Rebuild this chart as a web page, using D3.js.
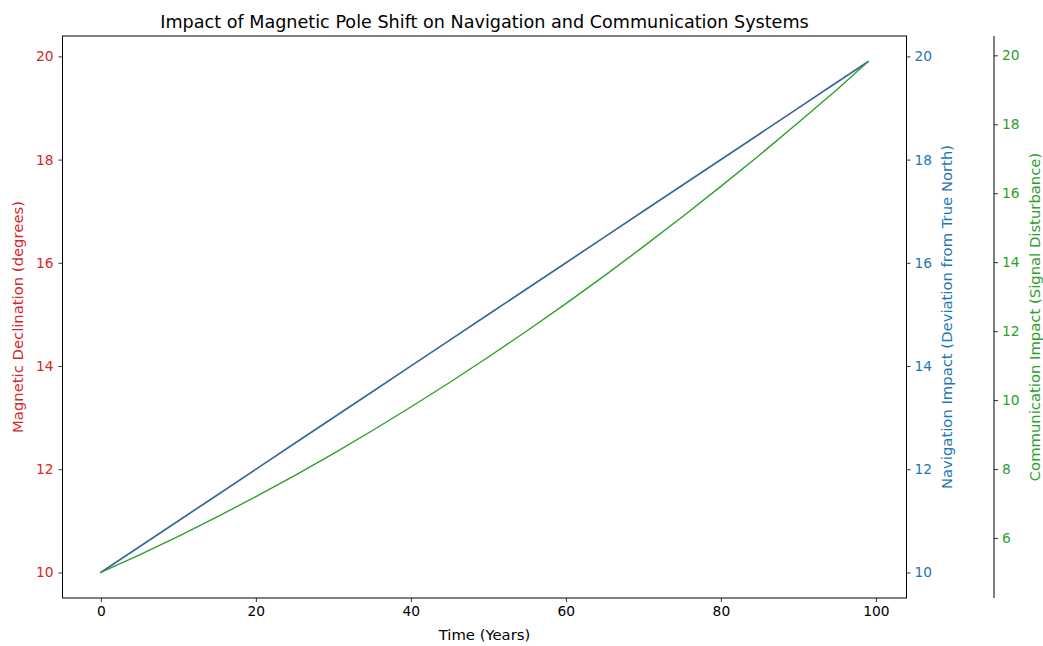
<!DOCTYPE html>
<html>
<head>
<meta charset="utf-8">
<script src="https://cdn.jsdelivr.net/npm/d3@7"></script>
<style>
  html, body { margin: 0; padding: 0; background: #fff; }
  svg { display: block; font-family: "DejaVu Sans", sans-serif; }
</style>
</head>
<body>
<svg id="chart" width="1043" height="646"></svg>
<script>
// ---- data ----
const years = [0, 5, 10, 15, 20, 25, 30, 35, 40, 45, 50, 55, 60, 65, 70, 75, 80, 85, 90, 95, 99];
const declination = [10.0, 10.5, 11.0, 11.5, 12.0, 12.5, 13.0, 13.5, 14.0, 14.5, 15.0, 15.5, 16.0, 16.5, 17.0, 17.5, 18.0, 18.5, 19.0, 19.5, 19.9];
const navigation = [10.0, 10.5, 11.0, 11.5, 12.0, 12.5, 13.0, 13.5, 14.0, 14.5, 15.0, 15.5, 16.0, 16.5, 17.0, 17.5, 18.0, 18.5, 19.0, 19.5, 19.9];
const communication = [5.0, 5.51, 6.05, 6.61, 7.2, 7.81, 8.45, 9.11, 9.8, 10.51, 11.25, 12.01, 12.8, 13.61, 14.45, 15.31, 16.2, 17.11, 18.05, 19.01, 19.82];
const xTicks = [0, 20, 40, 60, 80, 100];
const leftTicks = [10, 12, 14, 16, 18, 20];
const rightTicks = [10, 12, 14, 16, 18, 20];
const commTicks = [6, 8, 10, 12, 14, 16, 18, 20];

const title = "Impact of Magnetic Pole Shift on Navigation and Communication Systems";
const xLabel = "Time (Years)";
const leftLabel = "Magnetic Declination (degrees)";
const rightLabel = "Navigation Impact (Deviation from True North)";
const commLabel = "Communication Impact (Signal Disturbance)";

const RED = "#d62728", BLUE = "#1f77b4", GREEN = "#2ca02c";

// ---- layout ----
const L = 62.5, R = 906.5, T = 36, B = 598;
const svg = d3.select("#chart");

function padDomain(arr) {
  const [a, b] = d3.extent(arr);
  const p = (b - a) * 0.05;
  return [a - p, b + p];
}

const x = d3.scaleLinear().domain(padDomain(years)).range([L, R]);
const yL = d3.scaleLinear().domain(padDomain(declination)).range([B, T]);
const yR = d3.scaleLinear().domain(padDomain(navigation)).range([B, T]);
const yC = d3.scaleLinear().domain(padDomain(communication)).range([B, T]);

const FS = 13.8;   // tick labels
const LFS = 14.8;  // axis labels
const TFS = 17.6;  // title

// lines
function drawLine(vals, yScale, color) {
  const line = d3.line().x((d, i) => x(years[i])).y(d => yScale(d));
  svg.append("path").datum(vals)
    .attr("d", line)
    .attr("fill", "none")
    .attr("stroke", color)
    .attr("stroke-width", 1.4)
    .attr("stroke-linejoin", "round")
    .attr("stroke-linecap", "round");
}
drawLine(declination, yL, RED);
drawLine(navigation, yR, BLUE);
drawLine(communication, yC, GREEN);

// axes
function styleAxis(g, color) {
  g.select(".domain").remove();
  g.selectAll(".tick line").attr("stroke", "#000").attr("stroke-width", 0.8);
  g.selectAll(".tick text").attr("fill", color).style("font-size", FS + "px")
    .style("font-family", "DejaVu Sans, sans-serif");
}

const gx = svg.append("g").attr("transform", `translate(0,${B})`)
  .call(d3.axisBottom(x).tickValues(xTicks).tickFormat(d3.format("d")).tickSize(4).tickPadding(4));
styleAxis(gx, "#000");

const gl = svg.append("g").attr("transform", `translate(${L},0)`)
  .call(d3.axisLeft(yL).tickValues(leftTicks).tickFormat(d3.format("d")).tickSize(4).tickPadding(5));
styleAxis(gl, RED);

const gr = svg.append("g").attr("transform", `translate(${R},0)`)
  .call(d3.axisRight(yR).tickValues(rightTicks).tickFormat(d3.format("d")).tickSize(4).tickPadding(4));
styleAxis(gr, BLUE);

const CX = 994;
const gc = svg.append("g").attr("transform", `translate(${CX},0)`)
  .call(d3.axisRight(yC).tickValues(commTicks).tickFormat(d3.format("d")).tickSize(4).tickPadding(4));
styleAxis(gc, GREEN);

// spines
svg.append("rect").attr("x", L).attr("y", T).attr("width", R - L).attr("height", B - T)
  .attr("fill", "none").attr("stroke", "#000").attr("stroke-width", 1);
svg.append("line").attr("x1", CX).attr("x2", CX).attr("y1", T).attr("y2", B)
  .attr("stroke", "#000").attr("stroke-width", 1);

// title
svg.append("text").attr("x", (L + R) / 2).attr("y", 28)
  .attr("text-anchor", "middle").style("font-size", TFS + "px").attr("fill", "#000")
  .text(title);

// axis labels
svg.append("text").attr("x", (L + R) / 2).attr("y", 640)
  .attr("text-anchor", "middle").style("font-size", LFS + "px").attr("fill", "#000")
  .text(xLabel);

svg.append("text").attr("transform", `translate(23,${(T + B) / 2}) rotate(-90)`)
  .attr("text-anchor", "middle").style("font-size", LFS + "px").attr("fill", RED)
  .text(leftLabel);

svg.append("text").attr("transform", `translate(952,${(T + B) / 2}) rotate(-90)`)
  .attr("text-anchor", "middle").style("font-size", LFS + "px").attr("fill", BLUE)
  .text(rightLabel);

svg.append("text").attr("transform", `translate(1040,${(T + B) / 2}) rotate(-90)`)
  .attr("text-anchor", "middle").style("font-size", LFS + "px").attr("fill", GREEN)
  .text(commLabel);
</script>
</body>
</html>
